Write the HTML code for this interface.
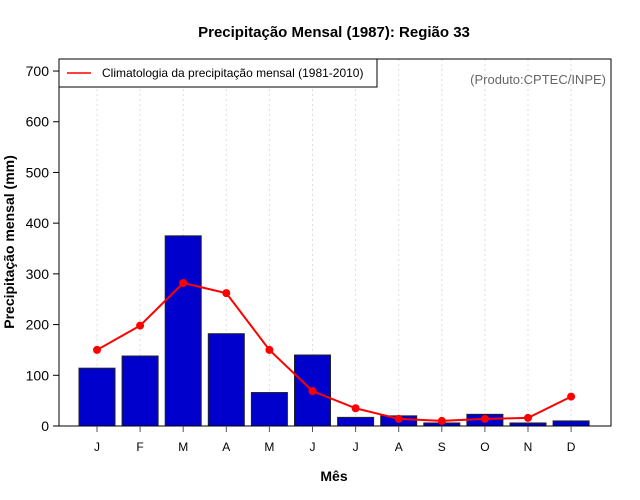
<!DOCTYPE html>
<html><head><meta charset="utf-8"><style>
body{margin:0;background:#fff}
svg{display:block;font-family:"Liberation Sans",sans-serif}
</style></head><body>
<svg id="c" width="640" height="500"></svg>
<script>
const months=["J","F","M","A","M","J","J","A","S","O","N","D"];
const observed=[114,138,375,182,66,140,17,20,6,23,6,10];
const climatology=[150,198,282,262,150,69,35,14,10,14,16,58];
const yTicks=[0,100,200,300,400,500,600,700];
const NS="http://www.w3.org/2000/svg";
const svg=document.getElementById("c");
const L=59,R=611,T=59,B=426;
const y=v=>B-v*0.5071;
const x=i=>97+i*43.1;
function el(t,a,p){const e=document.createElementNS(NS,t);for(const k in a)e.setAttribute(k,a[k]);(p||svg).appendChild(e);return e;}
// grid
months.forEach((m,i)=>{
 const g=el("line",{x1:x(i),x2:x(i),y1:T,y2:B,stroke:"#ddd","stroke-dasharray":"2,3"});
 
 
});
// bars
observed.forEach((v,i)=>{
 const b=el("rect",{x:x(i)-18,y:y(v),width:36,height:B-y(v),fill:"#0000cd",stroke:"#222","stroke-width":1});
 
 
});
// line
const pl=el("polyline",{points:climatology.map((v,i)=>x(i)+","+y(v)).join(" "),fill:"none",stroke:"#f00","stroke-width":2});


climatology.forEach((v,i)=>{
 const c=el("circle",{cx:x(i),cy:y(v),r:4,fill:"#f00"});
 
 
});
// frame
const fr=el("rect",{x:L,y:T,width:R-L,height:B-T,fill:"none",stroke:"#000","stroke-width":1});


// y ticks
yTicks.forEach(v=>{
 const t=el("line",{x1:L-6,x2:L,y1:y(v),y2:y(v),stroke:"#000"});
 
 
 const tx=el("text",{x:L-10,y:y(v)+5,"text-anchor":"end","font-size":14});
 tx.textContent=v;
 
 
});
// x ticks
months.forEach((m,i)=>{
 const t=el("line",{x1:x(i),x2:x(i),y1:B,y2:B+6,stroke:"#555"});
 
 
 const tx=el("text",{x:x(i),y:B+25,"text-anchor":"middle","font-size":12});
 tx.textContent=m;
 
 
});
</script>
<script>
(function(){
const svg=document.getElementById("c");const NS="http://www.w3.org/2000/svg";
function el(t,a){const e=document.createElementNS(NS,t);for(const k in a)e.setAttribute(k,a[k]);svg.appendChild(e);return e;}
let t=el("text",{x:334,y:37,"text-anchor":"middle","font-size":15,"font-weight":"bold"});t.textContent="Precipitação Mensal (1987): Região 33";

t=el("text",{x:334,y:481,"text-anchor":"middle","font-size":14,"font-weight":"bold"});t.textContent="Mês";

t=el("text",{x:14,y:242,"text-anchor":"middle","font-size":14,"font-weight":"bold",transform:"rotate(-90 14 242)"});t.textContent="Precipitação mensal (mm)";

t=el("text",{x:606,y:84,"text-anchor":"end","font-size":13,fill:"#666"});t.textContent="(Produto:CPTEC/INPE)";

let r=el("rect",{x:59,y:59,width:318,height:28,fill:"#fff",stroke:"#000"});

let l=el("line",{x1:67,x2:91,y1:73,y2:73,stroke:"#f00","stroke-width":1.5});

t=el("text",{x:102,y:77,"font-size":12});t.textContent="Climatologia da precipitação mensal (1981-2010)";

})();
</script>
</body></html>
